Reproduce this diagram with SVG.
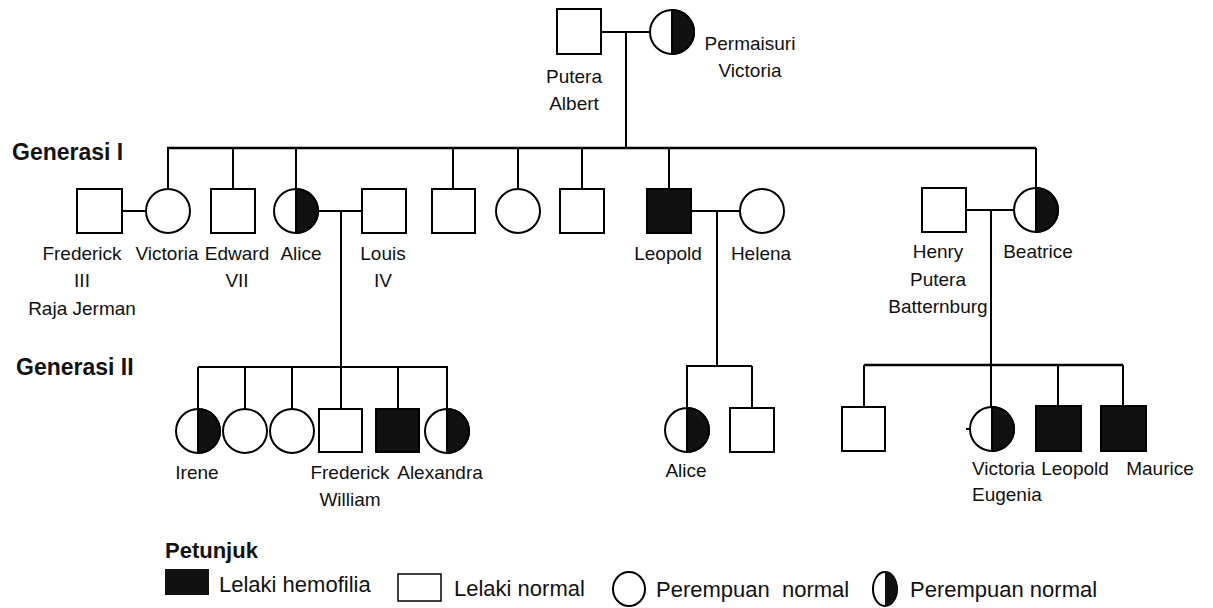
<svg xmlns="http://www.w3.org/2000/svg" xmlns:xlink="http://www.w3.org/1999/xlink" width="1213" height="608" viewBox="0 0 1213 608">
<style>
  .m { fill: #fff; stroke: #000; stroke-width: 2; }
  .a { fill: #111; stroke: #000; stroke-width: 2; }
  .f { fill: #fff; stroke: #000; stroke-width: 2; }
  .conn line, .conn path { stroke: #000; stroke-width: 2; fill: none; }
  .conn .thick { stroke-width: 2.6; }
  text { font-family: "Liberation Sans", Arial, sans-serif; font-size: 19px; fill: #111; }
  .c { text-anchor: middle; }
  .h { font-weight: bold; font-size: 23px; }
  .lg { font-size: 22px; }
</style>
<defs>
  <g id="carrier">
    <circle r="22" fill="#fff" stroke="#000" stroke-width="2"/>
    <path d="M0,-22 A22,22 0 0 1 0,22 Z" fill="#111" stroke="#000" stroke-width="2"/>
  </g>
</defs>
<rect width="1213" height="608" fill="#fff"/>

<g class="conn">
  <path d="M601,32 H651 M626,32 V148"/>
  <path class="thick" d="M167,148 H1036"/>
  <path d="M168,148 V189 M233,148 V189 M296,148 V189 M453,148 V189 M518,148 V189 M582,148 V189 M669,148 V189 M1036,148 V188"/>
  <path d="M122,211 H146"/>
  <path d="M318,211 H362 M341,211 V367"/>
  <path d="M198,367 H448 M198,367 V409 M245,367 V409 M292,367 V409 M341,367 V409 M398,367 V409 M447,367 V409"/>
  <path d="M691,211 H740 M717,211 V366 M686,366 H752 M687,366 V408 M752,366 V408"/>
  <path d="M966,210 H1014 M991,210 V365 M864,365 V407 M991,365 V407 M1058,365 V406 M1123,365 V406"/>
  <path class="thick" d="M864,365 H1123"/>
</g>

<g id="label-gen1"><text class="h" x="12" y="160">Generasi I</text></g>
<g id="label-gen2"><text class="h" x="16" y="375">Generasi II</text></g>

<g id="putera-albert">
  <rect class="m" x="557" y="9" width="44" height="45"/>
  <text class="c" x="574" y="83">Putera</text>
  <text class="c" x="574" y="110">Albert</text>
</g>
<g id="permaisuri-victoria">
  <use xlink:href="#carrier" href="#carrier" x="672" y="32"/>
  <text class="c" x="750" y="50">Permaisuri</text>
  <text class="c" x="750" y="77">Victoria</text>
</g>

<g id="frederick-iii">
  <rect class="m" x="77" y="189" width="45" height="44"/>
  <text class="c" x="82" y="260">Frederick</text>
  <text class="c" x="82" y="287">III</text>
  <text class="c" x="82" y="315">Raja Jerman</text>
</g>
<g id="victoria">
  <circle class="f" cx="168" cy="211" r="22"/>
  <text class="c" x="167" y="260">Victoria</text>
</g>
<g id="edward-vii">
  <rect class="m" x="211" y="189" width="44" height="44"/>
  <text class="c" x="237" y="260">Edward</text>
  <text class="c" x="237" y="287">VII</text>
</g>
<g id="alice">
  <use xlink:href="#carrier" href="#carrier" x="296" y="211"/>
  <text class="c" x="301" y="260">Alice</text>
</g>
<g id="louis-iv">
  <rect class="m" x="362" y="189" width="44" height="44"/>
  <text class="c" x="383" y="260">Louis</text>
  <text class="c" x="383" y="287">IV</text>
</g>
<g id="son-a"><rect class="m" x="432" y="189" width="43" height="44"/></g>
<g id="daughter-a"><circle class="f" cx="518" cy="211" r="22"/></g>
<g id="son-b"><rect class="m" x="560" y="189" width="44" height="44"/></g>
<g id="leopold">
  <rect class="a" x="647" y="189" width="44" height="44"/>
  <text class="c" x="668" y="260">Leopold</text>
</g>
<g id="helena">
  <circle class="f" cx="762" cy="211" r="22"/>
  <text class="c" x="761" y="260">Helena</text>
</g>
<g id="henry">
  <rect class="m" x="922" y="188" width="44" height="44"/>
  <text class="c" x="938" y="258">Henry</text>
  <text class="c" x="938" y="286">Putera</text>
  <text class="c" x="938" y="313">Batternburg</text>
</g>
<g id="beatrice">
  <use xlink:href="#carrier" href="#carrier" x="1036" y="210"/>
  <text class="c" x="1038" y="258">Beatrice</text>
</g>

<g id="irene">
  <use xlink:href="#carrier" href="#carrier" x="198" y="431"/>
  <text class="c" x="197" y="479">Irene</text>
</g>
<g id="daughter-b"><circle class="f" cx="245" cy="431" r="22"/></g>
<g id="daughter-c"><circle class="f" cx="292" cy="431" r="22"/></g>
<g id="frederick-william">
  <rect class="m" x="319" y="409" width="43" height="43"/>
  <text class="c" x="350" y="479">Frederick</text>
  <text class="c" x="350" y="506">William</text>
</g>
<g id="son-c"><rect class="a" x="376" y="409" width="43" height="43"/></g>
<g id="alexandra">
  <use xlink:href="#carrier" href="#carrier" x="447" y="431"/>
  <text class="c" x="440" y="479">Alexandra</text>
</g>

<g id="alice-ii">
  <use xlink:href="#carrier" href="#carrier" x="687" y="430"/>
  <text class="c" x="686" y="477">Alice</text>
</g>
<g id="son-d"><rect class="m" x="730" y="408" width="44" height="44"/></g>

<g id="son-e"><rect class="m" x="842" y="407" width="43" height="44"/></g>
<g id="victoria-eugenia">
  <line x1="966" y1="429" x2="970" y2="429" stroke="#000" stroke-width="2"/>
  <use xlink:href="#carrier" href="#carrier" x="992" y="429"/>
  <text x="972" y="475">Victoria</text>
  <text x="972" y="501">Eugenia</text>
</g>
<g id="leopold-ii">
  <rect class="a" x="1036" y="406" width="45" height="45"/>
  <text class="c" x="1075" y="475">Leopold</text>
</g>
<g id="maurice">
  <rect class="a" x="1101" y="406" width="45" height="45"/>
  <text class="c" x="1160" y="475">Maurice</text>
</g>

<g id="legend">
  <text class="h" x="165" y="558" style="font-size:22px">Petunjuk</text>
  <rect x="165" y="569" width="44" height="26" fill="#111"/>
  <text class="lg" x="219" y="592">Lelaki hemofilia</text>
  <rect class="m" x="398" y="574" width="43" height="27" style="stroke-width:1.5"/>
  <text class="lg" x="454" y="596">Lelaki normal</text>
  <ellipse cx="629" cy="589" rx="16" ry="17" fill="#fff" stroke="#000" stroke-width="2"/>
  <text class="lg" x="656" y="597">Perempuan<tspan x="782">normal</tspan></text>
  <ellipse cx="885" cy="589" rx="12" ry="17" fill="#fff" stroke="#000" stroke-width="2"/>
  <path d="M885,572 A12,17 0 0 1 885,606 Z" fill="#111"/>
  <text class="lg" x="910" y="597">Perempuan normal</text>
</g>
</svg>
